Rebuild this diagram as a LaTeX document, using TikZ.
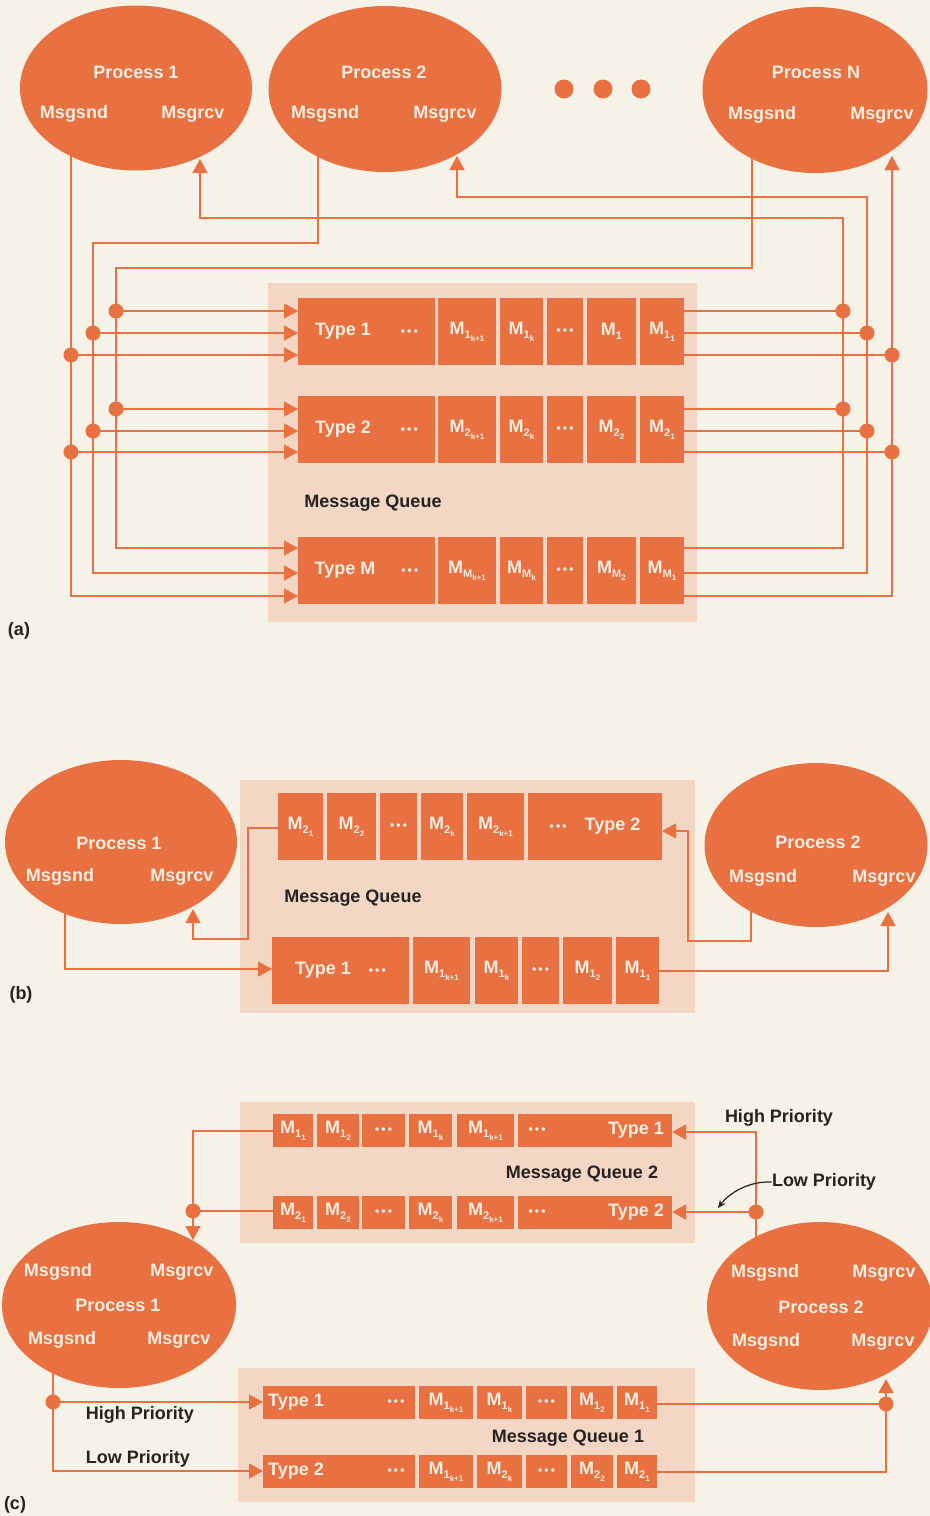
\documentclass[tikz,border=0pt]{standalone}
\usepackage{fontspec}
\setmainfont{Liberation Sans}
\usetikzlibrary{shapes.geometric,arrows.meta}
\definecolor{bgc}{RGB}{246,242,231}
\definecolor{org}{RGB}{233,112,64}
\definecolor{qbg}{RGB}{243,214,196}
\definecolor{dk}{RGB}{38,34,32}
\definecolor{wtx}{RGB}{253,238,226}
\newcommand\qbox[7]{%
 \pgfmathsetmacro\qbX{(#3+#5)/2}%
 \pgfmathsetmacro\qbY{(#4+#6)/2}%
 \pgfmathsetmacro\qbW{(#5-#3)*0.5}%
 \pgfmathsetmacro\qbH{(#6-#4)*0.5}%
 \node[#1, minimum width=\qbW pt, minimum height=\qbH pt] (#2) at (\qbX,\qbY) {#7};}
\newcommand\Ms[2]{M\raisebox{-0.45ex}{\fontsize{5.5}{6}\selectfont #1\raisebox{-0.4ex}{\fontsize{4}{4}\selectfont #2}}}
\newcommand\Mo[1]{M\raisebox{-0.45ex}{\fontsize{5.5}{6}\selectfont #1}}
\newcommand\tdots{{\fontsize{6}{6}\selectfont\textbullet\kern1.1pt\textbullet\kern1.1pt\textbullet}}
\begin{document}
\begin{tikzpicture}[x=0.5pt,y=-0.5pt,
 proc/.style={ellipse,fill=org,inner sep=0pt,outer sep=0pt},
 wt/.style={text=wtx,font=\bfseries\fontsize{9}{10}\selectfont,inner sep=0pt},
 dkt/.style={text=dk,font=\bfseries\fontsize{9}{10}\selectfont,inner sep=0pt},
 cellbox/.style={rectangle,fill=org,text=wtx,font=\bfseries\fontsize{9}{10}\selectfont,inner sep=0pt,outer sep=0pt},
 qback/.style={rectangle,fill=qbg,inner sep=0pt,outer sep=0pt},
 conn/.style={draw=org,line width=0.6pt},
 arr/.style={conn,-{Triangle[length=7pt,width=7.5pt]}},
 jdot/.style={circle,fill=org,minimum size=7.5pt,inner sep=0pt},
 bigdot/.style={circle,fill=org,minimum size=9.5pt,inner sep=0pt},
 blk/.style={draw=dk,line width=0.6pt,-{Stealth[length=4pt,width=3.5pt]}}]
\fill[bgc] (0,0) rectangle (930,1516);
\useasboundingbox (0,0) rectangle (930,1516);

%================ (a) =================
\node[proc,minimum width=116pt,minimum height=82.5pt] (pa1) at (136,88) {};
\node[wt] (pa1t) at (136,72) {Process 1};
\node[wt] (pa1s) at (74,114) {Msgsnd};
\node[wt] (pa1r) at (193,114) {Msgrcv};
\node[proc,minimum width=116.5pt,minimum height=83pt] (pa2) at (385,89) {};
\node[wt] (pa2t) at (384,72) {Process 2};
\node[wt] (pa2s) at (325,114) {Msgsnd};
\node[wt] (pa2r) at (445,114) {Msgrcv};
\node[proc,minimum width=112.5pt,minimum height=83pt] (paN) at (815,90) {};
\node[wt] (paNt) at (816,72) {Process N};
\node[wt] (paNs) at (762,115) {Msgsnd};
\node[wt] (paNr) at (882,115) {Msgrcv};
\node[bigdot] (bd1) at (564,89) {};
\node[bigdot] (bd2) at (603,89) {};
\node[bigdot] (bd3) at (641,89) {};

\qbox{qback}{qa}{268}{283}{697}{622}{}
\node[dkt] (qalab) at (373,503) {Message Queue};
% row 1
\qbox{cellbox}{a1t}{298}{298}{435}{365}{Type 1\hspace{15pt}\tdots}
\qbox{cellbox}{a1c2}{438}{298}{496}{365}{\Ms{1}{k+1}}
\qbox{cellbox}{a1c3}{500}{298}{543}{365}{\Ms{1}{k}}
\qbox{cellbox}{a1c4}{547}{298}{583}{365}{\tdots}
\qbox{cellbox}{a1c5}{587}{298}{636}{365}{\Mo{1}}
\qbox{cellbox}{a1c6}{640}{298}{684}{365}{\Ms{1}{1}}
% row 2
\qbox{cellbox}{a2t}{298}{396}{435}{463}{Type 2\hspace{15pt}\tdots}
\qbox{cellbox}{a2c2}{438}{396}{496}{463}{\Ms{2}{k+1}}
\qbox{cellbox}{a2c3}{500}{396}{543}{463}{\Ms{2}{k}}
\qbox{cellbox}{a2c4}{547}{396}{583}{463}{\tdots}
\qbox{cellbox}{a2c5}{587}{396}{636}{463}{\Ms{2}{2}}
\qbox{cellbox}{a2c6}{640}{396}{684}{463}{\Ms{2}{1}}
% row M
\qbox{cellbox}{aMt}{298}{537}{435}{604}{Type M\hspace{13pt}\tdots}
\qbox{cellbox}{aMc2}{438}{537}{496}{604}{\Ms{M}{k+1}}
\qbox{cellbox}{aMc3}{500}{537}{543}{604}{\Ms{M}{k}}
\qbox{cellbox}{aMc4}{547}{537}{583}{604}{\tdots}
\qbox{cellbox}{aMc5}{587}{537}{636}{604}{\Ms{M}{2}}
\qbox{cellbox}{aMc6}{640}{537}{684}{604}{\Ms{M}{1}}

% senders (a)
\coordinate (sa1) at (71,150);
\coordinate (sa2) at (318,150);
\coordinate (saN) at (752,150);
\coordinate (c1b) at (71,596);
\coordinate (c2t) at (93,243);
\coordinate (c2b) at (93,573);
\coordinate (cNt) at (116,268);
\coordinate (cNb) at (116,548);
\draw[arr] (sa1) -- (c1b) -- (c1b -| aMt.west);
\draw[arr] (sa2) |- (c2t) -- (c2b) -- (c2b -| aMt.west);
\draw[arr] (saN) |- (cNt) -- (cNb) -- (cNb -| aMt.west);
\node[jdot] (dl11) at (116,311) {};
\node[jdot] (dl12) at (93,333) {};
\node[jdot] (dl13) at (71,355) {};
\node[jdot] (dl21) at (116,409) {};
\node[jdot] (dl22) at (93,431) {};
\node[jdot] (dl23) at (71,452) {};
\foreach \d/\r in {dl11/a1t,dl12/a1t,dl13/a1t,dl21/a2t,dl22/a2t,dl23/a2t}
  \draw[arr] (\d.center) -- (\d.center -| \r.west);
% receivers (a)
\coordinate (r1b) at (843,548);
\coordinate (r1t) at (843,218);
\coordinate (ra1) at (200,159);
\coordinate (r2b) at (867,573);
\coordinate (r2t) at (867,197);
\coordinate (ra2) at (457,156);
\coordinate (rNb) at (892,596);
\coordinate (raN) at (892,156);
\draw[arr] (aMc6.east |- r1b) -- (r1b) -- (r1t) -| (ra1);
\draw[arr] (aMc6.east |- r2b) -- (r2b) -- (r2t) -| (ra2);
\draw[arr] (aMc6.east |- rNb) -- (rNb) -- (raN);
\node[jdot] (dr11) at (843,311) {};
\node[jdot] (dr12) at (867,333) {};
\node[jdot] (dr13) at (892,355) {};
\node[jdot] (dr21) at (843,409) {};
\node[jdot] (dr22) at (867,431) {};
\node[jdot] (dr23) at (892,452) {};
\foreach \d/\r in {dr11/a1c6,dr12/a1c6,dr13/a1c6,dr21/a2c6,dr22/a2c6,dr23/a2c6}
  \draw[conn] (\r.east |- \d.center) -- (\d.center);
\node[dkt] (laba) at (19,631) {(a)};

%================ (b) =================
\node[proc,minimum width=116pt,minimum height=82pt] (pb1) at (121,842) {};
\node[wt] (pb1t) at (119,843) {Process 1};
\node[wt] (pb1s) at (60,877) {Msgsnd};
\node[wt] (pb1r) at (182,877) {Msgrcv};
\node[proc,minimum width=111.5pt,minimum height=82pt] (pb2) at (816,845) {};
\node[wt] (pb2t) at (818,842) {Process 2};
\node[wt] (pb2s) at (763,878) {Msgsnd};
\node[wt] (pb2r) at (884,878) {Msgrcv};

\qbox{qback}{qb}{240}{780}{695}{1013}{}
\node[dkt] (qblab) at (353,898) {Message Queue};
\qbox{cellbox}{b2c1}{278}{793}{323}{860}{\Ms{2}{1}}
\qbox{cellbox}{b2c2}{327}{793}{376}{860}{\Ms{2}{2}}
\qbox{cellbox}{b2c3}{380}{793}{417}{860}{\tdots}
\qbox{cellbox}{b2c4}{421}{793}{463}{860}{\Ms{2}{k}}
\qbox{cellbox}{b2c5}{467}{793}{524}{860}{\Ms{2}{k+1}}
\qbox{cellbox}{b2t}{528}{793}{662}{860}{\tdots\hspace{9pt}Type 2}
\qbox{cellbox}{b1t}{272}{937}{409}{1004}{Type 1\hspace{9pt}\tdots}
\qbox{cellbox}{b1c2}{413}{937}{470}{1004}{\Ms{1}{k+1}}
\qbox{cellbox}{b1c3}{475}{937}{518}{1004}{\Ms{1}{k}}
\qbox{cellbox}{b1c4}{522}{937}{559}{1004}{\tdots}
\qbox{cellbox}{b1c5}{563}{937}{612}{1004}{\Ms{1}{2}}
\qbox{cellbox}{b1c6}{616}{937}{659}{1004}{\Ms{1}{1}}

\coordinate (sb1) at (65,900);
\coordinate (sb1b) at (65,969);
\draw[arr] (sb1) -- (sb1b) -- (sb1b -| b1t.west);
\coordinate (rb1k) at (248,828);
\coordinate (rb1j) at (248,939);
\coordinate (rb1) at (193,909);
\draw[arr] (b2c1.west |- rb1k) -- (rb1k) -- (rb1j) -| (rb1);
\coordinate (sb2) at (751,900);
\coordinate (sb2j) at (688,941);
\coordinate (sb2k) at (688,831);
\draw[arr] (sb2) |- (sb2j) -- (sb2k) -- (sb2k -| b2t.east);
\coordinate (rb2j) at (888,971);
\coordinate (rb2) at (888,912);
\draw[arr] (b1c6.east |- rb2j) -- (rb2j) -- (rb2);
\node[dkt] (labb) at (21,995) {(b)};

%================ (c) =================
\node[proc,minimum width=117pt,minimum height=83pt] (pc1) at (119,1305) {};
\node[wt] (pc1s1) at (58,1272) {Msgsnd};
\node[wt] (pc1r1) at (182,1272) {Msgrcv};
\node[wt] (pc1t) at (118,1305) {Process 1};
\node[wt] (pc1s2) at (62,1340) {Msgsnd};
\node[wt] (pc1r2) at (179,1340) {Msgrcv};
\node[proc,minimum width=113pt,minimum height=84pt] (pc2) at (820,1306) {};
\node[wt] (pc2s1) at (765,1273) {Msgsnd};
\node[wt] (pc2r1) at (884,1273) {Msgrcv};
\node[wt] (pc2t) at (821,1307) {Process 2};
\node[wt] (pc2s2) at (766,1342) {Msgsnd};
\node[wt] (pc2r2) at (883,1342) {Msgrcv};

% queue 2
\qbox{qback}{qc2}{240}{1102}{695}{1243}{}
\node[dkt] (qc2lab) at (582,1174) {Message Queue 2};
\qbox{cellbox}{c2a1}{273}{1114}{313}{1147}{\Ms{1}{1}}
\qbox{cellbox}{c2a2}{317}{1114}{359}{1147}{\Ms{1}{2}}
\qbox{cellbox}{c2a3}{362}{1114}{405}{1147}{\tdots}
\qbox{cellbox}{c2a4}{409}{1114}{452}{1147}{\Ms{1}{k}}
\qbox{cellbox}{c2a5}{457}{1114}{514}{1147}{\Ms{1}{k+1}}
\qbox{cellbox}{c2t1}{518}{1114}{672}{1147}{}
\node[wt] (c2d1) at (537,1130.5) {\tdots};
\node[wt] (c2l1) at (636,1130.5) {Type 1};
\qbox{cellbox}{c2b1}{273}{1196}{313}{1229}{\Ms{2}{1}}
\qbox{cellbox}{c2b2}{317}{1196}{359}{1229}{\Ms{2}{2}}
\qbox{cellbox}{c2b3}{362}{1196}{405}{1229}{\tdots}
\qbox{cellbox}{c2b4}{409}{1196}{452}{1229}{\Ms{2}{k}}
\qbox{cellbox}{c2b5}{457}{1196}{514}{1229}{\Ms{2}{k+1}}
\qbox{cellbox}{c2t2}{518}{1196}{672}{1229}{}
\node[wt] (c2d2) at (537,1212.5) {\tdots};
\node[wt] (c2l2) at (636,1212.5) {Type 2};
\node[dkt] (hp1) at (779,1118) {High Priority};
\node[dkt] (lp1) at (824,1182) {Low Priority};

\coordinate (sc2) at (756,1248);
\coordinate (sc2t) at (756,1132);
\node[jdot] (dc2) at (756,1212) {};
\draw[arr] (sc2) -- (sc2t) -- (sc2t -| c2t1.east);
\draw[arr] (dc2.center) -- (dc2.center -| c2t2.east);
\coordinate (rc1t) at (193,1131);
\node[jdot] (dc1) at (193,1211) {};
\coordinate (rc1) at (193,1240);
\draw[conn] (c2a1.west |- rc1t) -- (rc1t) -- (dc1.center);
\draw[conn] (c2b1.west |- dc1.center) -- (dc1.center);
\draw[arr] (dc1.center) -- (rc1);
\coordinate (lpb) at (718,1208);
\draw[blk] (lp1.west) .. controls (750,1181) and (730,1192) .. (lpb);

% queue 1
\qbox{qback}{qc1}{238}{1368}{695}{1502}{}
\node[dkt] (qc1lab) at (568,1438) {Message Queue 1};
\qbox{cellbox}{c1t1}{263}{1386}{415}{1419}{}
\node[wt] (c1l1) at (296,1402.5) {Type 1};
\node[wt] (c1d1) at (396,1402.5) {\tdots};
\qbox{cellbox}{c1a2}{419}{1386}{473}{1419}{\Ms{1}{k+1}}
\qbox{cellbox}{c1a3}{477}{1386}{522}{1419}{\Ms{1}{k}}
\qbox{cellbox}{c1a4}{526}{1386}{567}{1419}{\tdots}
\qbox{cellbox}{c1a5}{571}{1386}{613}{1419}{\Ms{1}{2}}
\qbox{cellbox}{c1a6}{617}{1386}{657}{1419}{\Ms{1}{1}}
\qbox{cellbox}{c1t2}{263}{1455}{415}{1488}{}
\node[wt] (c1l2) at (296,1471.5) {Type 2};
\node[wt] (c1d2) at (396,1471.5) {\tdots};
\qbox{cellbox}{c1b2}{419}{1455}{473}{1488}{\Ms{1}{k+1}}
\qbox{cellbox}{c1b3}{477}{1455}{522}{1488}{\Ms{2}{k}}
\qbox{cellbox}{c1b4}{526}{1455}{567}{1488}{\tdots}
\qbox{cellbox}{c1b5}{571}{1455}{613}{1488}{\Ms{2}{2}}
\qbox{cellbox}{c1b6}{617}{1455}{657}{1488}{\Ms{2}{1}}
\node[dkt] (hp2) at (140,1415) {High Priority};
\node[dkt] (lp2) at (138,1459) {Low Priority};

\coordinate (sc1) at (53,1362);
\node[jdot] (dc3) at (53,1402) {};
\coordinate (sc1b) at (53,1471);
\draw[conn] (sc1) -- (dc3.center);
\draw[arr] (dc3.center) -- (dc3.center -| c1t1.west);
\draw[arr] (dc3.center) -- (sc1b) -- (sc1b -| c1t2.west);
\node[jdot] (dc4) at (886,1404) {};
\coordinate (rc2b) at (886,1472);
\coordinate (rc2) at (886,1379);
\draw[conn] (c1a6.east |- dc4.center) -- (dc4.center);
\draw[conn] (c1b6.east |- rc2b) -- (rc2b) -- (dc4.center);
\draw[arr] (dc4.center) -- (rc2);
\node[dkt] (labc) at (15,1505) {(c)};
\end{tikzpicture}
\end{document}
